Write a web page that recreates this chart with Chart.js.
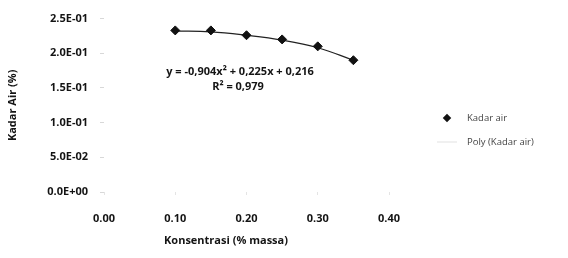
<!DOCTYPE html>
<html>
<head>
<meta charset="utf-8">
<script src="https://cdn.jsdelivr.net/npm/chart.js@4.4.1/dist/chart.umd.min.js"></script>
<style>
  html, body { margin: 0; padding: 0; background: #fff; }
  #wrap { width: 568px; height: 258px; }
</style>
</head>
<body>
<div id="wrap"><canvas id="myChart" width="568" height="258"></canvas></div>
<script>
  // data
  var konsentrasi = [0.10, 0.15, 0.20, 0.25, 0.30, 0.35];
  var kadarAir = [0.233, 0.233, 0.226, 0.220, 0.210, 0.190];
  var polyKadarAir = [0.232, 0.231, 0.226, 0.219, 0.208, 0.190];
  var yTicks = ['0.0E+00', '5.0E-02', '1.0E-01', '1.5E-01', '2.0E-01', '2.5E-01'];
  var xTicks = ['0.00', '0.10', '0.20', '0.30', '0.40'];
  var equation = 'y = -0,904x² + 0,225x + 0,216';
  var rSquared = 'R² = 0,979';

  var font = "'Open Sans', 'Liberation Sans', sans-serif";
  var ink = '#141414';

  function toPoints(xs, ys) {
    return xs.map(function (x, i) { return { x: x, y: ys[i] }; });
  }

  // equation, x title and legend, drawn over the chart
  var extras = {
    id: 'extras',
    afterDraw: function (chart) {
      var c = chart.ctx;
      c.save();
      c.fillStyle = ink;
      c.textBaseline = 'middle';
      c.textAlign = 'center';
      c.font = 'bold 11px ' + font;
      c.fillText(equation, 240, 72);
      c.fillText(rSquared, 238, 87);
      c.fillText('Konsentrasi (% massa)', 226, 241);

      // legend
      c.textAlign = 'left';
      c.font = '9.5px ' + font;
      chart.data.datasets.forEach(function (ds, i) {
        var y = 118 + i * 24;
        if (ds.pointRadius > 0) {
          c.save();
          c.fillStyle = ds.pointBackgroundColor;
          c.translate(447, y);
          c.rotate(Math.PI / 4);
          c.fillRect(-3, -3, 6, 6);
          c.restore();
        } else {
          c.strokeStyle = 'rgba(0,0,0,0.12)';
          c.lineWidth = 1;
          c.beginPath();
          c.moveTo(437, y);
          c.lineTo(457, y);
          c.stroke();
        }
        c.fillStyle = '#444';
        c.fillText(ds.label, 467, y);
      });
      c.restore();
    }
  };

  var ctx = document.getElementById('myChart').getContext('2d');
  var chart = new Chart(ctx, {
      type: 'scatter',
      data: {
          datasets: [{
              label: 'Kadar air',
              data: toPoints(konsentrasi, kadarAir),
              pointStyle: 'rectRot',
              pointRadius: 4.5,
              pointBackgroundColor: '#111',
              pointBorderColor: '#111',
              showLine: false
          }, {
              label: 'Poly (Kadar air)',
              data: toPoints(konsentrasi, polyKadarAir),
              showLine: true,
              pointRadius: 0,
              borderColor: '#222',
              borderWidth: 1.2,
              tension: 0.4
          }]
      },
      options: {
          responsive: false,
          animation: false,
          layout: { padding: { top: 18, right: 179, left: 0, bottom: 0 } },
          plugins: {
              legend: { display: false },
              tooltip: { enabled: false }
          },
          scales: {
              x: {
                  type: 'linear',
                  min: 0,
                  max: 0.4,
                  afterFit: function (s) { s.height = 66; },
                  afterBuildTicks: function (s) {
                      s.ticks = xTicks.map(function (t) { return { value: parseFloat(t) }; });
                  },
                  ticks: {
                      color: ink,
                      padding: 17,
                      font: { family: font, size: 11, weight: 'bold' },
                      callback: function (v, i) { return xTicks[i]; }
                  },
                  grid: { drawOnChartArea: false, drawTicks: true, tickLength: 3, color: '#e4e4e4' },
                  border: { display: false }
              },
              y: {
                  min: 0,
                  max: 0.25,
                  afterFit: function (s) { s.width = 104; },
                  afterBuildTicks: function (s) {
                      s.ticks = yTicks.map(function (t) { return { value: parseFloat(t) }; });
                  },
                  ticks: {
                      color: ink,
                      padding: 12,
                      font: { family: font, size: 11, weight: 'bold' },
                      callback: function (v, i) { return yTicks[i]; }
                  },
                  title: {
                      display: true,
                      text: 'Kadar Air (%)',
                      color: ink,
                      padding: 6,
                      font: { family: font, size: 11, weight: 'bold' }
                  },
                  grid: { drawOnChartArea: false, drawTicks: true, tickLength: 4, color: '#d8d8d8' },
                  border: { display: false }
              }
          }
      },
      plugins: [extras]
  });
</script>
</body>
</html>
